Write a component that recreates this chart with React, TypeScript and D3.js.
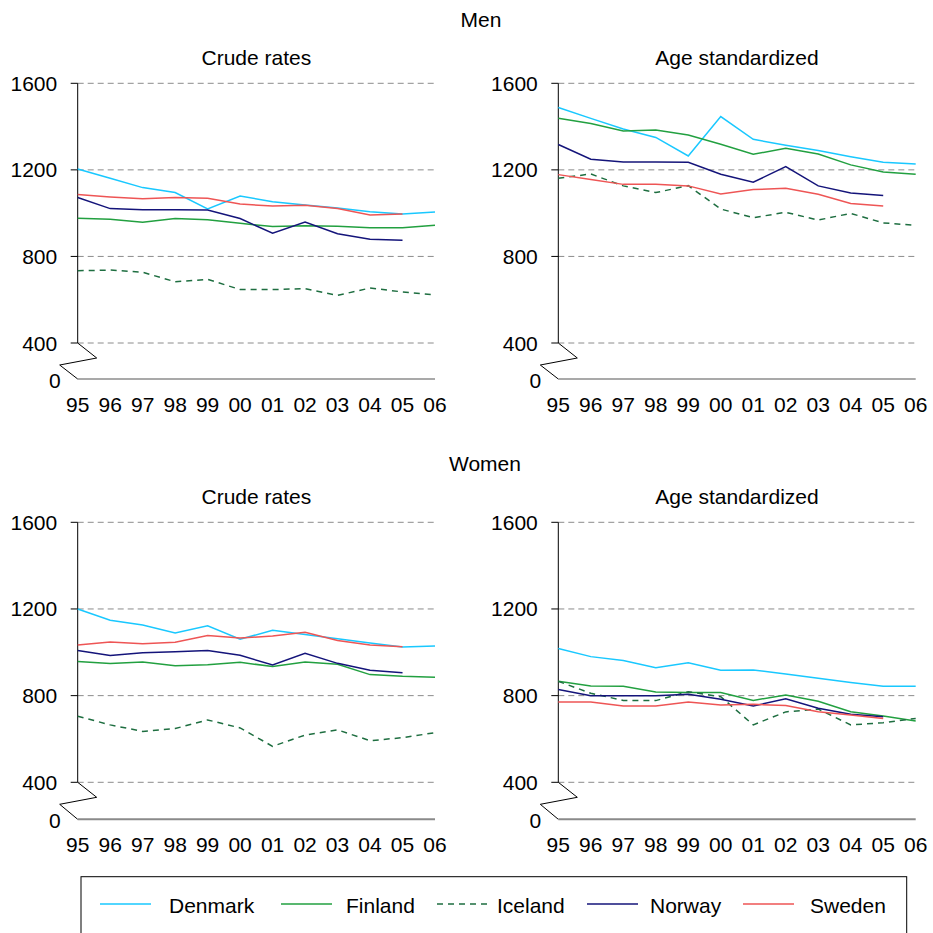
import React from 'react';
import * as d3 from 'd3';

const years = ['95', '96', '97', '98', '99', '00', '01', '02', '03', '04', '05', '06'];
const yTicks = [400, 800, 1200, 1600];
const countries = ['Denmark', 'Finland', 'Iceland', 'Norway', 'Sweden'];
const colors = ['#19c8ff', '#22a040', '#1e6e40', '#14147a', '#ee5555'];

// Men, crude rates
const menCrudeDenmark = [1204, 1161, 1118, 1095, 1019, 1079, 1053, 1038, 1024, 1007, 996, 1005];
const menCrudeFinland = [976, 972, 958, 975, 970, 953, 938, 942, 939, 933, 933, 944];
const menCrudeIceland = [734, 737, 727, 683, 694, 647, 647, 651, 620, 654, 636, 622];
const menCrudeNorway = [1072, 1021, 1016, 1016, 1015, 975, 907, 959, 905, 879, 875, null];
const menCrudeSweden = [1086, 1075, 1067, 1072, 1069, 1042, 1033, 1036, 1021, 992, 996, null];

// Men, age standardized
const menAgeDenmark = [1488, 1438, 1389, 1350, 1264, 1446, 1341, 1314, 1289, 1261, 1235, 1227];
const menAgeFinland = [1438, 1414, 1380, 1384, 1361, 1318, 1272, 1300, 1273, 1223, 1190, 1180];
const menAgeIceland = [1161, 1181, 1126, 1095, 1127, 1019, 979, 1004, 968, 999, 955, 944];
const menAgeNorway = [1317, 1249, 1236, 1236, 1235, 1180, 1143, 1215, 1126, 1093, 1081, null];
const menAgeSweden = [1178, 1156, 1133, 1133, 1126, 1089, 1109, 1115, 1087, 1045, 1033, null];

// Women, crude rates
const womenCrudeDenmark = [1200, 1148, 1126, 1089, 1122, 1060, 1102, 1082, 1062, 1043, 1025, 1029];
const womenCrudeFinland = [957, 948, 955, 938, 943, 954, 934, 955, 945, 897, 889, 885];
const womenCrudeIceland = [705, 665, 635, 648, 688, 651, 566, 618, 642, 592, 606, 629];
const womenCrudeNorway = [1008, 985, 998, 1003, 1008, 986, 942, 995, 949, 917, 906, null];
const womenCrudeSweden = [1034, 1048, 1040, 1046, 1077, 1066, 1075, 1092, 1054, 1034, 1026, null];

// Women, age standardized
const womenAgeDenmark = [1018, 980, 962, 929, 952, 917, 918, 900, 880, 861, 843, 843];
const womenAgeFinland = [866, 845, 843, 817, 814, 814, 778, 803, 774, 726, 706, 683];
const womenAgeIceland = [866, 811, 778, 777, 818, 795, 665, 725, 738, 665, 675, 695];
const womenAgeNorway = [828, 800, 800, 800, 806, 783, 752, 785, 742, 714, 702, null];
const womenAgeSweden = [771, 771, 752, 752, 771, 757, 760, 754, 726, 711, 694, null];

const FONT = '"Liberation Sans", Arial, sans-serif';

const Panel = ({ title, series, left, right, top, bottom, base, baseColor, baseWidth }) => {
  const x = d3.scalePoint().domain(years).range([left, right]);
  const y = d3.scaleLinear().domain([400, 1600]).range([bottom, top]);
  const line = d3.line()
    .defined(d => d != null)
    .x((_, i) => x(years[i]))
    .y(d => y(d));

  // broken axis zigzag from 400 down to 0
  const zig = `M${left},${bottom} L${left + 19},${bottom + 15} L${left - 18},${bottom + 22} L${left},${base}`;

  return (
    <g>
      <text x={(left + right) / 2} y={top - 18.5} textAnchor="middle" fontSize={21} fontFamily={FONT}>{title}</text>
      {yTicks.map(t => (
        <g key={t}>
          <line x1={left} x2={right} y1={y(t)} y2={y(t)} stroke="#8c8c8c" strokeDasharray="6,4" />
          <line x1={left - 7} x2={left} y1={y(t)} y2={y(t)} stroke="#000" />
          <text x={left - 20.5} y={y(t) + 7.5} textAnchor="end" fontSize={21} fontFamily={FONT}>{t}</text>
        </g>
      ))}
      <text x={left - 17} y={base + 8.5} textAnchor="end" fontSize={21} fontFamily={FONT}>0</text>
      <line x1={left} x2={left} y1={top} y2={bottom} stroke="#000" />
      <path d={zig} fill="none" stroke="#000" />
      <line x1={left} x2={right} y1={base} y2={base} stroke={baseColor} strokeWidth={baseWidth} />
      {years.map(yr => (
        <text key={yr} x={x(yr)} y={base + 32.5} textAnchor="middle" fontSize={21} fontFamily={FONT}>{yr}</text>
      ))}
      {series.map((s, i) => (
        <path key={countries[i]} d={line(s)} fill="none" stroke={colors[i]} strokeWidth={1.5}
          strokeDasharray={countries[i] === 'Iceland' ? '6,5' : null} />
      ))}
    </g>
  );
};

const legendX = [100, 281, 437, 587, 743];
const legendTextX = [169, 346, 497, 650, 810];

export default function App() {
  const topPanel = { top: 83.3, bottom: 343, base: 379, baseColor: '#555', baseWidth: 1.2 };
  const botPanel = { top: 522.3, bottom: 782.3, base: 819.3, baseColor: '#8a8a8a', baseWidth: 2 };
  const leftX = { left: 77.7, right: 435 };
  const rightX = { left: 558.3, right: 915.7 };

  return (
    <svg width={933} height={933} style={{ position: 'absolute', left: 0, top: 0, background: '#fff' }}>
      <text x={481} y={26.7} textAnchor="middle" fontSize={21} fontFamily={FONT}>Men</text>
      <text x={485} y={470.7} textAnchor="middle" fontSize={21} fontFamily={FONT}>Women</text>
      <Panel title="Crude rates" {...leftX} {...topPanel}
        series={[menCrudeDenmark, menCrudeFinland, menCrudeIceland, menCrudeNorway, menCrudeSweden]} />
      <Panel title="Age standardized" {...rightX} {...topPanel}
        series={[menAgeDenmark, menAgeFinland, menAgeIceland, menAgeNorway, menAgeSweden]} />
      <Panel title="Crude rates" {...leftX} {...botPanel}
        series={[womenCrudeDenmark, womenCrudeFinland, womenCrudeIceland, womenCrudeNorway, womenCrudeSweden]} />
      <Panel title="Age standardized" {...rightX} {...botPanel}
        series={[womenAgeDenmark, womenAgeFinland, womenAgeIceland, womenAgeNorway, womenAgeSweden]} />

      <rect x={81} y={876.7} width={825.7} height={80} fill="none" stroke="#000" />
      {countries.map((c, i) => (
        <g key={c}>
          <line x1={legendX[i]} x2={legendX[i] + 51} y1={904} y2={904} stroke={colors[i]} strokeWidth={1.5}
            strokeDasharray={c === 'Iceland' ? '6,5' : null} />
          <text x={legendTextX[i]} y={912.7} fontSize={21} fontFamily={FONT}>{c}</text>
        </g>
      ))}
    </svg>
  );
}
